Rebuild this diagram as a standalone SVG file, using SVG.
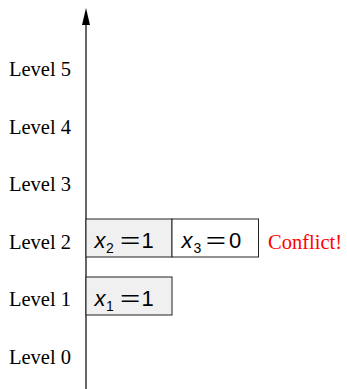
<svg xmlns="http://www.w3.org/2000/svg" width="347" height="389" viewBox="0 0 347 389">
<style>
.lvl{font-family:"Liberation Serif","Times New Roman",serif;font-size:20.5px;fill:#000}
.box{stroke:#222;stroke-width:1}
.g{fill:#f0f0f0}
.w{fill:#fff}
.m{font-family:"Liberation Sans",Arial,sans-serif;font-size:22px;fill:#000}
.it{font-style:italic}
.sub{font-size:14px}
</style>
<g id="axis">
<line x1="86" y1="389" x2="86" y2="22" stroke="#000" stroke-width="1.2"/>
<polygon points="86,8 82,25 90,25" fill="#000"/>
</g>
<g id="labels">
<text class="lvl" x="9" y="76">Level 5</text>
<text class="lvl" x="9" y="133.5">Level 4</text>
<text class="lvl" x="9" y="191">Level 3</text>
<text class="lvl" x="9" y="248.5">Level 2</text>
<text class="lvl" x="9" y="306">Level 1</text>
<text class="lvl" x="9" y="363.5">Level 0</text>
</g>
<g id="node-x2">
<rect class="box g" x="86" y="219" width="86" height="38"/>
<text class="m" y="248"><tspan class="it" x="94.5">x</tspan><tspan class="sub" x="106" dy="4.5">2</tspan></text>
<text class="m" x="120.1" y="248" textLength="20.3" lengthAdjust="spacingAndGlyphs">=</text>
<text class="m" x="141.5" y="248">1</text>
</g>
<g id="node-x3">
<rect class="box w" x="172" y="219" width="86.5" height="38"/>
<text class="m" y="248"><tspan class="it" x="181.5">x</tspan><tspan class="sub" x="193.5" dy="4.5">3</tspan></text>
<text class="m" x="205.7" y="248" textLength="20.3" lengthAdjust="spacingAndGlyphs">=</text>
<text class="m" x="229" y="248">0</text>
</g>
<g id="node-x1">
<rect class="box g" x="86" y="277" width="86" height="38"/>
<text class="m" y="306"><tspan class="it" x="94.5">x</tspan><tspan class="sub" x="106" dy="4.5">1</tspan></text>
<text class="m" x="120.1" y="306" textLength="20.3" lengthAdjust="spacingAndGlyphs">=</text>
<text class="m" x="141.5" y="306">1</text>
</g>
<g id="conflict">
<text x="268" y="248.5" font-family="'Liberation Serif','Times New Roman',serif" font-size="20.5" fill="#ff0000">Conflict!</text>
</g>
</svg>
